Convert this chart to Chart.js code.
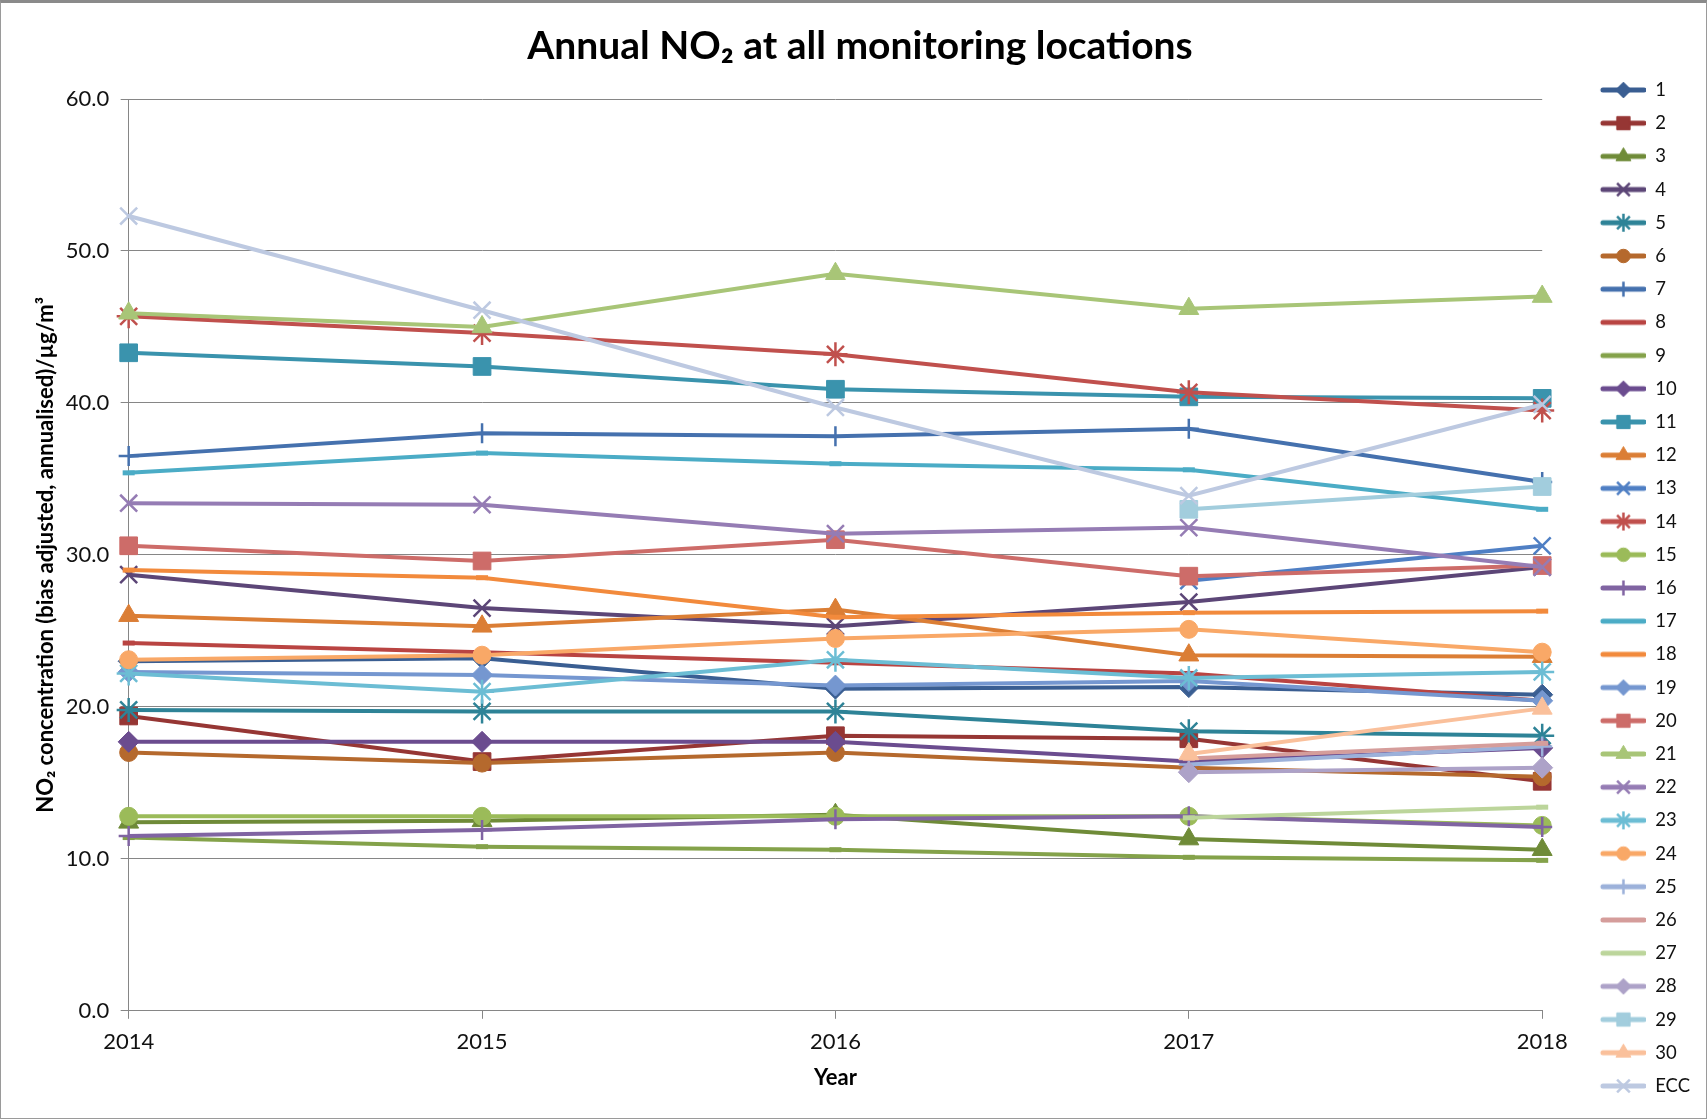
<!DOCTYPE html>
<html><head><meta charset="utf-8">
<script src="https://cdn.jsdelivr.net/npm/chart.js@4.4.1/dist/chart.umd.min.js"></script>
<style>
html,body{margin:0;padding:0;background:#fff;}
#wrap{position:relative;width:1707px;height:1119px;overflow:hidden;}
#frame{position:absolute;left:0;top:0;width:1707px;height:1119px;box-sizing:border-box;border:1px solid #9a9a9a;border-top:3px solid #8a8a8a;pointer-events:none;}
</style></head><body>
<div id="wrap"><canvas id="c" width="1707" height="1119"></canvas><div id="frame"></div></div>
<script>
// ---- data ----
const years = ['2014', '2015', '2016', '2017', '2018'];
const seriesNames = ['1','2','3','4','5','6','7','8','9','10','11','12','13','14','15','16','17','18','19','20','21','22','23','24','25','26','27','28','29','30','ECC'];
const yTickValues = [0, 10, 20, 30, 40, 50, 60];

const s1  = [23.0, 23.2, 21.2, 21.3, 20.8];
const s2  = [19.4, 16.4, 18.1, 17.9, 15.1];
const s3  = [12.4, 12.5, 12.9, 11.3, 10.6];
const s4  = [28.7, 26.5, 25.3, 26.9, 29.2];
const s5  = [19.8, 19.7, 19.7, 18.4, 18.1];
const s6  = [17.0, 16.3, 17.0, 16.0, 15.4];
const s7  = [36.5, 38.0, 37.8, 38.3, 34.8];
const s8  = [24.2, 23.6, 22.9, 22.2, 20.4];
const s9  = [11.4, 10.8, 10.6, 10.1, 9.9];
const s10 = [17.7, 17.7, 17.7, 16.4, 17.3];
const s11 = [43.3, 42.4, 40.9, 40.4, 40.3];
const s12 = [26.0, 25.3, 26.4, 23.4, 23.3];
const s13 = [null, null, null, 28.3, 30.6];
const s14 = [45.7, 44.6, 43.2, 40.7, 39.5];
const s15 = [12.8, 12.8, 12.8, 12.8, 12.2];
const s16 = [11.5, 11.9, 12.6, 12.8, 12.1];
const s17 = [35.4, 36.7, 36.0, 35.6, 33.0];
const s18 = [29.0, 28.5, 25.9, 26.2, 26.3];
const s19 = [22.3, 22.1, 21.4, 21.7, 20.4];
const s20 = [30.6, 29.6, 31.0, 28.6, 29.3];
const s21 = [45.9, 45.0, 48.5, 46.2, 47.0];
const s22 = [33.4, 33.3, 31.4, 31.8, 29.2];
const s23 = [22.2, 21.0, 23.1, 21.9, 22.3];
const s24 = [23.1, 23.4, 24.5, 25.1, 23.6];
const s25 = [null, null, null, 16.2, 17.4];
const s26 = [null, null, null, 16.6, 17.6];
const s27 = [null, null, null, 12.7, 13.4];
const s28 = [null, null, null, 15.7, 16.0];
const s29 = [null, null, null, 33.0, 34.5];
const s30 = [null, null, null, 16.9, 19.9];
const sECC = [52.3, 46.1, 39.7, 33.9, 39.9];

const seriesValues = [s1,s2,s3,s4,s5,s6,s7,s8,s9,s10,s11,s12,s13,s14,s15,s16,s17,s18,s19,s20,s21,s22,s23,s24,s25,s26,s27,s28,s29,s30,sECC];

// ---- styles ----
const colors = ['#3A5E92','#963634','#6F8B38','#5C4677','#2E8397','#B5692D',
                '#4571AE','#B94442','#84A24A','#6B4C8F','#3A93AD','#DB7E35',
                '#4F7FC4','#C0504D','#9BBB59','#8064A2','#4BACC6','#F28A3C',
                '#7597D0','#CD6C69','#A8C577','#957CB4','#6CBDD4','#F9A867',
                '#9CB1DA','#D59D9B','#BCD59B','#ADA2C8','#A2CDDD','#FAC09B','#BDC9E1'];
const markers = ['rectRot','rect','triangle','crossRot','star','circle',
                 'cross','line','line','rectRot','rect','triangle',
                 'crossRot','star','circle','cross','line','line',
                 'rectRot','rect','triangle','crossRot','star','circle',
                 'cross','line','line','rectRot','rect','triangle','crossRot'];
const markerRadius = {circle:9, rect:12.5, rectRot:10.5, triangle:11.5, crossRot:12, star:12, cross:10, line:6};
const markerBorder = {circle:1, rect:1, rectRot:1, triangle:1, crossRot:2.5, star:2.5, cross:2.5, line:5};
const FONT = 'Lato';

function legendIcon(color, marker) {
  const c = document.createElement('canvas');
  c.width = 89; c.height = 26;
  const ctx = c.getContext('2d');
  ctx.strokeStyle = color; ctx.fillStyle = color;
  ctx.lineWidth = 5; ctx.lineCap = 'round';
  ctx.beginPath(); ctx.moveTo(46, 13); ctx.lineTo(87, 13); ctx.stroke();
  if (marker !== 'line') {
    ctx.lineWidth = markerBorder[marker];
    ctx.lineCap = 'butt';
    Chart.helpers.drawPoint(ctx, {pointStyle: marker, radius: markerRadius[marker] * 0.75, rotation: 0, borderWidth: markerBorder[marker]}, 66.5, 13);
  }
  return c;
}
const icons = colors.map((c, i) => legendIcon(c, markers[i]));

const datasets = seriesValues.map((vals, i) => ({
  label: seriesNames[i],
  data: vals,
  borderColor: colors[i],
  backgroundColor: colors[i],
  borderWidth: 4,
  tension: 0,
  fill: false,
  clip: false,
  pointStyle: markers[i],
  pointRadius: markerRadius[markers[i]],
  pointBorderWidth: markerBorder[markers[i]],
  pointBackgroundColor: colors[i],
  pointBorderColor: colors[i],
  order: seriesValues.length - i
}));

new Chart(document.getElementById('c'), {
  type: 'line',
  data: { labels: years, datasets: datasets },
  options: {
    responsive: false,
    devicePixelRatio: 1,
    animation: false,
    events: [],
    layout: { padding: { left: 20, right: 7, top: 0, bottom: 0 } },
    plugins: {
      title: {
        display: true,
        text: 'Annual NO₂ at all monitoring locations',
        font: { family: FONT, size: 39, weight: 'bold' },
        color: '#000',
        padding: { top: 22.6, bottom: 0 },
        fullSize: true
      },
      subtitle: {
        display: true, text: '', fullSize: false,
        font: { family: FONT, size: 10 },
        padding: { top: 0, bottom: 17.6 }
      },
      tooltip: { enabled: false },
      legend: {
        position: 'right',
        align: 'start',
        title: { display: true, text: '', font: { family: FONT, size: 10 }, padding: { top: 54, bottom: 0 } },
        labels: {
          usePointStyle: true,
          pointStyleWidth: 89,
          padding: 14.7,
          color: '#111',
          font: { family: FONT, size: 18.5 },
          generateLabels: (chart) => chart.data.datasets.map((d, i) => ({
            text: d.label, pointStyle: icons[i], fillStyle: colors[i], strokeStyle: colors[i],
            lineWidth: 0, hidden: false, datasetIndex: i, fontColor: '#111'
          }))
        }
      }
    },
    scales: {
      x: {
        type: 'category',
        offset: false,
        grid: { display: true, drawOnChartArea: false, drawTicks: true, tickLength: 8, color: '#868686', lineWidth: 1 },
        border: { display: true, color: '#868686', width: 1 },
        ticks: { font: { family: FONT, size: 22 }, color: '#111', padding: 9.8, maxRotation: 0, autoSkip: false },
        title: { display: true, text: 'Year', font: { family: FONT, size: 22, weight: 'bold' }, color: '#000', padding: { top: 0, bottom: 27.8 } }
      },
      y: {
        min: yTickValues[0],
        max: yTickValues[yTickValues.length - 1],
        afterBuildTicks: (axis) => { axis.ticks = yTickValues.map(v => ({ value: v })); },
        ticks: { callback: (v) => Number(v).toFixed(1), font: { family: FONT, size: 22 }, color: '#111', padding: 11.5 },
        grid: { color: '#868686', lineWidth: 1, tickLength: 8, drawTicks: true },
        border: { display: true, color: '#868686', width: 1 },
        title: { display: true, text: 'NO₂ concentration (bias adjusted, annualised)/µg/m³', font: { family: FONT, size: 22, weight: 'bold' }, color: '#000', padding: { top: 12.8, bottom: -5 } }
      }
    }
  }
});
</script>
</body></html>
